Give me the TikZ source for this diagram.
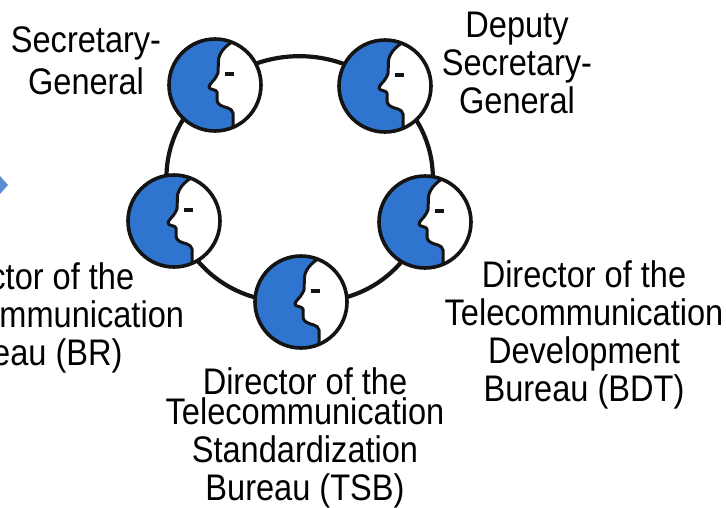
\documentclass[tikz,border=0pt]{standalone}
\usepackage{fontspec}
\setmainfont[FakeStretch=0.88]{Liberation Sans}
\definecolor{faceblue}{HTML}{2F74CF}
\definecolor{arrowblue}{HTML}{5B8DD0}
\definecolor{inkline}{HTML}{141414}
\tikzset{
  x=1pt,y=-1pt,
  label text/.style={align=center,inner sep=0pt,text=black,font=\fontsize{37}{38}\selectfont},
  ring/.style={draw=inkline,line width=4.2pt},
  head/.style={circle,minimum size=94pt,inner sep=0pt},
  pics/facehead/.style={code={
    \fill[white] (0,0) circle[radius=46];
    \fill[faceblue] (17,-43) .. controls (6,-36) and (3,-28) .. (3.3,-22)
      .. controls (3,-16) and (4,-12) .. (1.5,-9)
      .. controls (0,-5) and (-6,-1) .. (-6,2)
      .. controls (-6,5) and (1,4) .. (2,7)
      .. controls (3,12) and (0,17) .. (5,20)
      .. controls (9,23) and (17,22) .. (18,28)
      -- (18,43) arc[start angle=67,end angle=292,radius=46] -- cycle;
    \draw[draw=inkline,line width=3pt,line join=round] (17,-43) .. controls (6,-36) and (3,-28) .. (3.3,-22)
      .. controls (3,-16) and (4,-12) .. (1.5,-9)
      .. controls (0,-5) and (-6,-1) .. (-6,2)
      .. controls (-6,5) and (1,4) .. (2,7)
      .. controls (3,12) and (0,17) .. (5,20)
      .. controls (9,23) and (17,22) .. (18,28)
      -- (18,43);
    \draw[draw=inkline,line width=3.2pt] (10,-11) -- (19,-11);
    \draw[draw=inkline,line width=3.6pt] (0,0) circle[radius=46];
  }}
}
\begin{document}
\begin{tikzpicture}
\useasboundingbox (0,0) rectangle (726,507);
\clip (0,0) rectangle (726,507);
\fill[white] (0,0) rectangle (726,507);
\fill[arrowblue] (-10,185) -- (0,176) -- (8,185) -- (0,194) -- cycle;
\node[head] (sg) at (215,85) {};
\node[head] (dsg) at (385,86) {};
\node[head] (bdt) at (425,222) {};
\node[head] (tsb) at (301,302) {};
\node[head] (br) at (174,221) {};
\draw[ring] (sg.center) to[bend left=36] (dsg.center);
\draw[ring] (dsg.center) to[bend left=36] (bdt.center);
\draw[ring] (bdt.center) to[bend left=36] (tsb.center);
\draw[ring] (tsb.center) to[bend left=36] (br.center);
\draw[ring] (br.center) to[bend left=36] (sg.center);
\pic at (sg) {facehead};
\pic at (dsg) {facehead};
\pic at (bdt) {facehead};
\pic at (tsb) {facehead};
\pic at (br) {facehead};
\node[label text] (tsg) at (86,61) {Secretary-\\[4pt]General};
\node[label text] (tdsg) at (517,63) {Deputy\\Secretary-\\General};
\node[label text] (tbr) at (32,318) {Director of the\\Radiocommunication\\Bureau (BR)};
\node[label text] (tbdt) at (584,335) {Director of the\\Telecommunication\\Development\\Bureau (BDT)};
\node[label text] (ttsb) at (305,438) {Director of the\\[-8pt]Telecommunication\\Standardization\\Bureau (TSB)};
\end{tikzpicture}
\end{document}
